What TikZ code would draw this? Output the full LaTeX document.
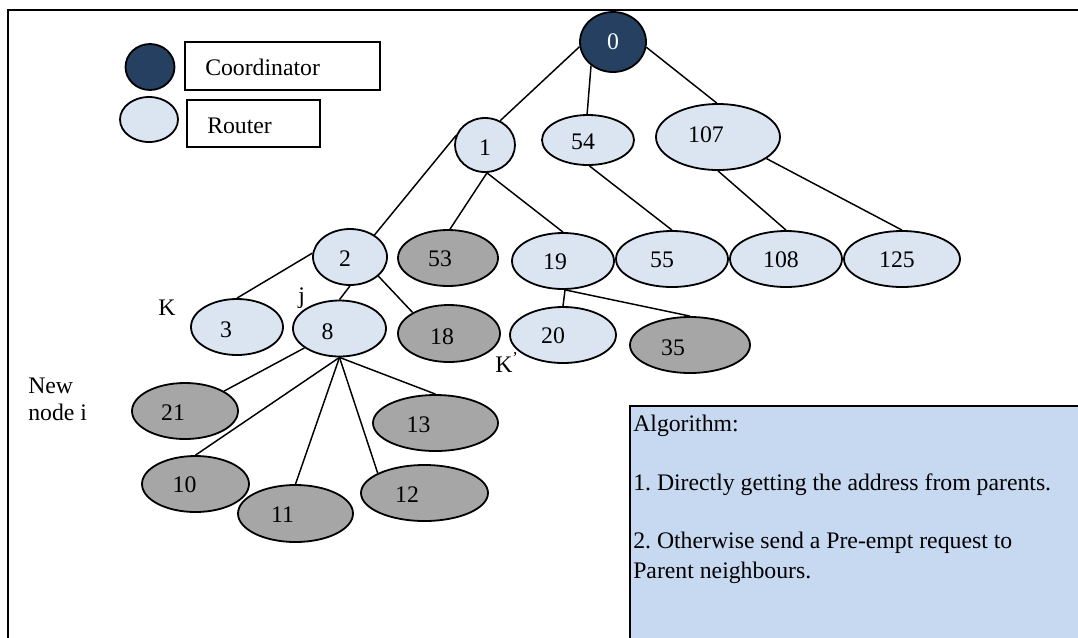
\documentclass[tikz,border=0pt]{standalone}
\usepackage{fontspec}
\setmainfont{Liberation Serif}
\usetikzlibrary{shapes.geometric}
\definecolor{navy}{HTML}{254061}
\definecolor{rtr}{HTML}{DBE5F1}
\definecolor{gry}{HTML}{A6A6A6}
\definecolor{algo}{HTML}{C6D9F1}
\frenchspacing
\begin{document}
\begin{tikzpicture}[x=0.75pt,y=-0.75pt,
  txt/.style={font=\fontsize{17.8pt}{21pt}\selectfont, inner sep=0pt},
  ell/.style={ellipse, draw=black, line width=1.35pt, inner sep=0pt},
  sz/.style 2 args={minimum width={0.75pt*#1}, minimum height={0.75pt*#2}},
  rt/.style={ell, fill=rtr},
  gr/.style={ell, fill=gry},
  co/.style={ell, fill=navy},
  num/.style n args={3}{label={[txt, shift={(#1,#2)}]center:#3}},
  edge/.style={draw=black, line width=1.1pt},
  box/.style={draw=black, line width=1.2pt, fill=white}
]
\useasboundingbox (0,0) rectangle (1078,637);

% frame
\coordinate (fbl) at (8,640);
\coordinate (ftl) at (8,10);
\coordinate (ftr) at (1082,10);
\draw[line width=2.2pt] (fbl) -- (ftl) -- (ftr);

% legend
\node[co, sz={49}{46}] (lc) at (150,67) {};
\node[box, minimum width={1.5pt*97.5}, minimum height={1.5pt*24}, anchor=north west] (lcb) at (184,41) {};
\node[txt, anchor=base west] (lct) at (205,75) {Coordinator};
\node[rt, sz={58}{45}] (lr) at (149,119.5) {};
\node[box, minimum width={1.5pt*66.5}, minimum height={1.5pt*23.5}, anchor=north west] (lrb) at (186,99) {};
\node[txt, anchor=base west] (lrt) at (207,133) {Router};

% tree nodes
\node[co, sz={66}{60}, label={[txt, text=white]center:0}] (n0) at (613,42) {};
\node[rt, sz={60}{54}, num={0}{3}{1}] (n1) at (485,145) {};
\node[rt, sz={92}{50}, num={-5}{2}{54}] (n54) at (588,140) {};
\node[rt, sz={124}{66}, num={-12}{-2}{107}] (n107) at (718,137) {};
\node[rt, sz={74}{56}, num={-5}{2}{2}] (n2) at (350,257) {};
\node[gr, sz={100}{56}, num={-8}{1}{53}] (n53) at (448,258) {};
\node[rt, sz={102}{56}, num={-8}{1}{19}] (n19) at (563,261) {};
\node[rt, sz={112}{56}, num={-10}{1}{55}] (n55) at (672,259) {};
\node[rt, sz={112}{56}, num={-5}{1}{108}] (n108) at (786,259) {};
\node[rt, sz={116}{56}, num={-5}{1}{125}] (n125) at (902,259) {};
\node[rt, sz={92}{56}, num={-11}{3}{3}] (n3) at (237,327) {};
\node[rt, sz={93}{56}, num={-12}{3}{8}] (n8) at (339.5,328.5) {};
\node[gr, sz={102}{57}, num={-7}{3}{18}] (n18) at (449,333.5) {};
\node[rt, sz={106}{56}, num={-10}{1}{20}] (n20) at (563,335) {};
\node[gr, sz={120}{56}, num={-17}{3}{35}] (n35) at (690,345) {};
\node[gr, sz={106}{56}, num={-12}{2}{21}] (n21) at (185,411) {};
\node[gr, sz={125}{56}, num={-17}{2}{13}] (n13) at (435.5,423) {};
\node[gr, sz={107}{56}, num={-11}{1}{10}] (n10) at (195.5,484) {};
\node[gr, sz={115}{57}, num={-13}{1.5}{11}] (n11) at (295.5,513.5) {};
\node[gr, sz={127}{56}, num={-17.5}{2}{12}] (n12) at (424.5,493) {};

% edges
\draw[edge] (n0.188) -- (n1.58);
\draw[edge] (n0.227) -- (n54.92);
\draw[edge] (n0.351) -- (n107.92);
\draw[edge] (n1.162) -- (n2.42);
\draw[edge] (n1.274) -- (n53.86);
\draw[edge] (n1.274) -- (n19.90);
\draw[edge] (n54.273) -- (n55.90);
\draw[edge] (n107.270) -- (n108.90);
\draw[edge] (n107.336) -- (n125.90);
\draw[edge] (n2.174) -- (n3.90);
\draw[edge] (n2.270) -- (n8.90);
\draw[edge] (n2.326) -- (n18.150);
\draw[edge] (n19.274) -- (n20.90);
\draw[edge] (n19.274) -- (n35.90);
\draw[edge] (n8.209) -- (n21.27);
\draw[edge] (n8.270) -- (n10.90);
\draw[edge] (n8.270) -- (n11.90);
\draw[edge] (n8.270) -- (n12.157);
\draw[edge] (n8.270) -- (n13.90);

% side labels
\node[txt, anchor=base west] (lk) at (158,315) {K};
\node[txt, anchor=base west] (lj) at (298,303) {j};
\node[txt, anchor=base west] (lk2) at (495,372) {K\textsuperscript{’}};
\node[txt, anchor=north west, align=left] (lnew) at (28,378) {New\\[-1pt]node i};

% algorithm box
\draw[line width=1.5pt, fill=algo] (630,406) rectangle (1090,650);
\node[txt, anchor=base west] (a0) at (633,431) {Algorithm:};
\node[txt, anchor=base west] (a1) at (633,490) {1. Directly getting the address from parents.};
\node[txt, anchor=base west] (a2) at (633,548) {2. Otherwise send a Pre-empt request to};
\node[txt, anchor=base west] (a3) at (633,578) {Parent neighbours.};
\end{tikzpicture}
\end{document}
